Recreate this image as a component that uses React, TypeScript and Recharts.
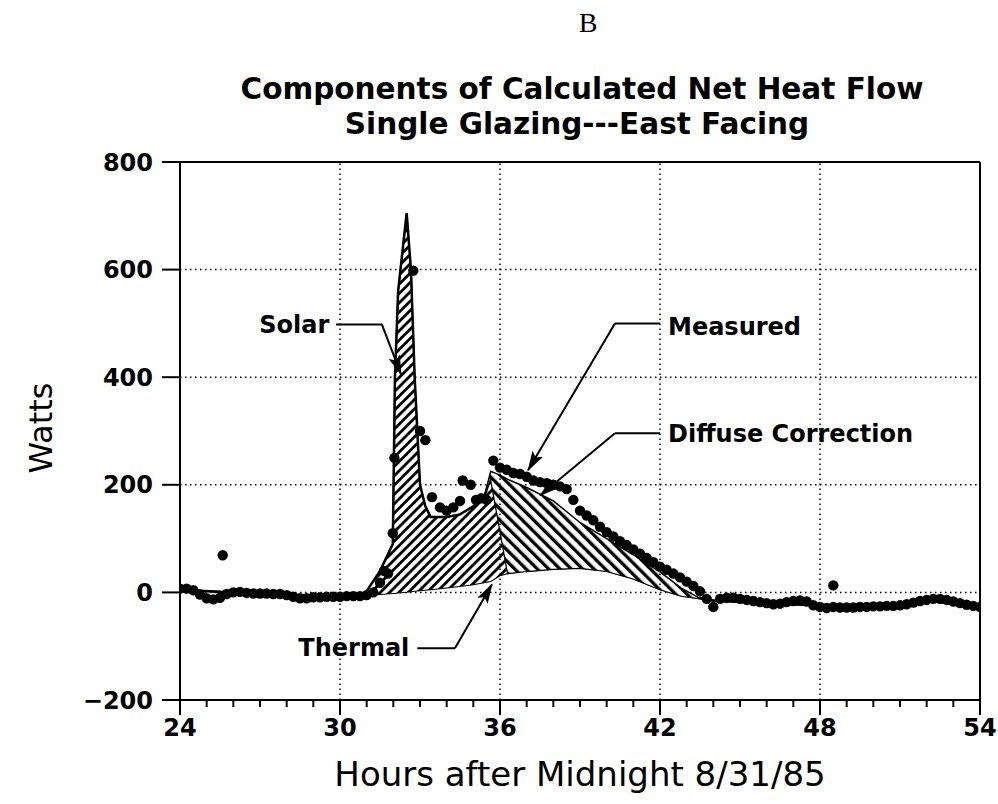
import React from 'react';
import {
  ComposedChart,
  Area,
  Scatter,
  XAxis,
  YAxis,
  CartesianGrid,
  ReferenceLine,
  ReferenceDot,
} from 'recharts';

// ---- Calculated components (stacked: thermal, then solar, then diffuse correction) ----
const componentHours = [24, 26, 28, 30, 30.9, 31.5, 31.98, 32.06, 32.18, 32.5, 32.66, 32.8, 33.0, 33.2, 33.4, 34.0, 34.5, 35.0, 35.4, 35.65, 36.0, 36.3, 37, 38, 39, 40, 41, 42, 42.8, 43.5, 44, 46, 48, 50, 52, 54];
const thermalWatts = [5, 0, -5, -8, -5, -3, -1, -1, 0, 1, 2, 3, 4, 5, 6, 9, 12, 15, 19, 21, 32, 36, 40, 44, 46, 40, 26, 6, -6, -11, -15, -20, -24, -25, -15, -27];
const solarWatts = [0, 0, 0, 0, 0, 43, 91, 401, 560, 704, 598, 397, 196, 155, 134, 131, 133, 145, 156, 194, 87, 0, 0, 0, 0, 0, 0, 0, 0, 0, 0, 0, 0, 0, 0, 0];
const diffuseWatts = [0, 0, 0, 0, 0, 0, 0, 0, 0, 0, 0, 0, 0, 0, 0, 0, 0, 0, 0, 10, 99, 174, 155, 126, 84, 60, 44, 32, 14, 0, 0, 0, 0, 0, 0, 0];

// ---- Measured net heat flow (dots) ----
const measuredHours = [
  24.0, 24.25, 24.5, 24.75, 25.0, 25.25, 25.5, 25.6, 25.75, 26.0, 26.25, 26.5, 26.75, 27.0, 27.25, 27.5, 27.75,
  28.0, 28.25, 28.5, 28.75, 29.0, 29.25, 29.5, 29.75, 30.0, 30.25, 30.5, 30.75, 31.0, 31.25, 31.5, 31.65, 31.8,
  31.98, 32.04, 32.75, 33.0, 33.2, 33.45, 33.75, 34.0, 34.25, 34.5, 34.6, 34.9, 35.1, 35.3, 35.5, 35.75, 36.0,
  36.25, 36.5, 36.75, 37.0, 37.25, 37.5, 37.75, 38.0, 38.25, 38.5, 38.75, 39.0, 39.25, 39.5, 39.75, 40.0, 40.25,
  40.5, 40.75, 41.0, 41.25, 41.5, 41.75, 42.0, 42.25, 42.5, 42.75, 43.0, 43.25, 43.5, 43.75, 44.0, 44.25, 44.5,
  44.75, 45.0, 45.25, 45.5, 45.75, 46.0, 46.25, 46.5, 46.75, 47.0, 47.25, 47.5, 47.75, 48.0, 48.25, 48.5, 48.5,
  48.75, 49.0, 49.25, 49.5, 49.75, 50.0, 50.25, 50.5, 50.75, 51.0, 51.25, 51.5, 51.75, 52.0, 52.25, 52.5, 52.75,
  53.0, 53.25, 53.5, 53.75, 54.0,
];
const measuredWatts = [
  7, 7, 4, -4, -11, -13, -10, 69, -3, 0, 1, -1, -2, -2, -2, -3, -3,
  -5, -8, -11, -11, -9, -9, -8, -8, -8, -7, -7, -7, -5, 0, 18, 40, 35,
  110, 250, 598, 300, 283, 177, 158, 152, 158, 170, 208, 200, 172, 175, 172, 245, 232,
  228, 222, 220, 215, 208, 205, 203, 200, 197, 192, 172, 152, 143, 134, 122, 112, 104,
  95, 88, 80, 72, 64, 56, 48, 42, 35, 28, 20, 12, 2, -12, -27, -12, -10,
  -10, -12, -14, -16, -18, -20, -22, -21, -18, -16, -15, -17, -24, -27, -29, -27, 13,
  -28, -28, -28, -27, -27, -26, -26, -25, -25, -24, -22, -19, -16, -14, -12, -12, -14,
  -17, -20, -23, -25, -27,
];

// ---- Axis ticks ----
const hourTicks = [24, 25, 26, 27, 28, 29, 30, 31, 32, 33, 34, 35, 36, 37, 38, 39, 40, 41, 42, 43, 44, 45, 46, 47, 48, 49, 50, 51, 52, 53, 54];
const labeledHours = [24, 30, 36, 42, 48, 54];
const gridHours = [30, 36, 42, 48];
const wattTicks = [-200, 0, 200, 400, 600, 800];

const componentData = componentHours.map((hour, i) => ({
  hour,
  thermal: thermalWatts[i],
  solar: solarWatts[i],
  diffuse: diffuseWatts[i],
}));
const measuredData = measuredHours.map((hour, i) => ({ hour, measured: measuredWatts[i] }));

// ---- Callouts (data coordinates) ----
const callouts = [
  { label: 'Solar', anchor: 'end', text: { x: 29.6, y: 498 }, bend: { x: 31.57, y: 498 }, start: { x: 29.85, y: 498 }, tip: { x: 32.29, y: 405 } },
  { label: 'Measured', anchor: 'start', text: { x: 42.3, y: 494 }, bend: { x: 40.31, y: 500 }, start: { x: 42.0, y: 500 }, tip: { x: 37.05, y: 227 } },
  { label: 'Diffuse Correction', anchor: 'start', text: { x: 42.3, y: 296 }, bend: { x: 40.31, y: 296 }, start: { x: 42.0, y: 296 }, tip: { x: 37.5, y: 180 } },
  { label: 'Thermal', anchor: 'end', text: { x: 32.6, y: -102 }, bend: { x: 34.31, y: -104 }, start: { x: 32.9, y: -104 }, tip: { x: 35.7, y: 15 } },
];

const FONT = 'DejaVu Sans';

const HourTick = (props: any) => {
  const { x, y, payload } = props;
  const v = payload.value;
  const major = labeledHours.includes(v);
  return (
    <g>
      <line x1={x} y1={y} x2={x} y2={y + (major ? 15 : 7)} stroke="#000" strokeWidth={2} />
      {major && (
        <text x={x} y={y + 36} textAnchor="middle" fontFamily={FONT} fontWeight="bold" fontSize={24} fill="#000">
          {v}
        </text>
      )}
    </g>
  );
};

const arrowShape = (p: any) => (
  <line x1={p.x1} y1={p.y1} x2={p.x2} y2={p.y2} stroke="#000" strokeWidth={2} markerEnd="url(#arrowHead)" />
);
const plainShape = (p: any) => <line x1={p.x1} y1={p.y1} x2={p.x2} y2={p.y2} stroke="#000" strokeWidth={2} />;

const textShape = (label: string, anchor: string) => (p: any) => (
  <text x={p.cx} y={p.cy} dy={8.7} textAnchor={anchor as any} fontFamily={FONT} fontWeight="bold" fontSize={24} fill="#000">
    {label}
  </text>
);

const Dot = (p: any) => <circle cx={p.cx} cy={p.cy} r={5.2} fill="#000" />;

export default function App() {
  return (
    <div style={{ position: 'absolute', left: 0, top: 0, width: 998, height: 804, background: '#fff' }}>
      <ComposedChart
        width={998}
        height={804}
        data={componentData}
        margin={{ top: 162, right: 18, bottom: 64, left: 0 }}
      >
        <defs>
          <pattern id="hatchSolar" patternUnits="userSpaceOnUse" width="6.6" height="6.6" patternTransform="rotate(45)">
            <rect x="0" y="0" width="6.6" height="6.6" fill="#fff" />
            <rect x="0" y="0" width="2.8" height="6.6" fill="#000" />
          </pattern>
          <pattern id="hatchDiffuse" patternUnits="userSpaceOnUse" width="8" height="8" patternTransform="rotate(-45)">
            <rect x="0" y="0" width="8" height="8" fill="#fff" />
            <rect x="0" y="0" width="3.3" height="8" fill="#000" />
          </pattern>
          <marker id="arrowHead" markerUnits="userSpaceOnUse" markerWidth="20" markerHeight="12" refX="19" refY="6" orient="auto">
            <path d="M0,0 L20,6 L0,12 L4,6 z" fill="#000" />
          </marker>
        </defs>
        <CartesianGrid horizontal vertical={false} stroke="#000" strokeWidth={1.5} strokeDasharray="1.5 3.5" />
        <XAxis
          dataKey="hour"
          type="number"
          domain={[24, 54]}
          allowDataOverflow
          ticks={hourTicks}
          interval={0}
          height={40}
          tickSize={0}
          tickMargin={0}
          tickLine={false}
          axisLine={{ stroke: '#000', strokeWidth: 2 }}
          tick={<HourTick />}
        />
        <YAxis
          type="number"
          domain={[-200, 800]}
          allowDataOverflow
          ticks={wattTicks}
          interval={0}
          width={180}
          tickSize={18}
          tickMargin={9}
          axisLine={{ stroke: '#000', strokeWidth: 2 }}
          tickLine={{ stroke: '#000', strokeWidth: 2 }}
          tick={{ fontFamily: FONT, fontWeight: 'bold', fontSize: 24, fill: '#000' }}
          tickFormatter={(v: number) => (v < 0 ? '\u2212' + Math.abs(v) : String(v))}
        />
        {gridHours.map((h) => (
          <ReferenceLine key={'g' + h} x={h} stroke="#000" strokeWidth={1.5} strokeDasharray="1.5 3.5" />
        ))}
        <ReferenceLine y={800} stroke="#000" strokeWidth={2} />
        <ReferenceLine x={54} stroke="#000" strokeWidth={2} />

        <Area type="linear" dataKey="thermal" stackId="c" stroke="#000" strokeWidth={2} fill="none" isAnimationActive={false} dot={false} activeDot={false} />
        <Area type="linear" dataKey="solar" stackId="c" stroke="#000" strokeWidth={2.5} fill="url(#hatchSolar)" fillOpacity={1} isAnimationActive={false} dot={false} activeDot={false} />
        <Area type="linear" dataKey="diffuse" stackId="c" stroke="#000" strokeWidth={1.5} fill="url(#hatchDiffuse)" fillOpacity={1} isAnimationActive={false} dot={false} activeDot={false} />

        <Scatter data={measuredData} dataKey="measured" fill="#000" shape={Dot} isAnimationActive={false} />

        {callouts.map((c) => (
          <ReferenceLine key={'h' + c.label} segment={[c.start, c.bend]} shape={plainShape} />
        ))}
        {callouts.map((c) => (
          <ReferenceLine key={'a' + c.label} segment={[c.bend, c.tip]} shape={arrowShape} />
        ))}
        {callouts.map((c) => (
          <ReferenceDot key={'t' + c.label} x={c.text.x} y={c.text.y} r={0} shape={textShape(c.label, c.anchor)} />
        ))}
      </ComposedChart>

      <svg width={998} height={804} style={{ position: 'absolute', left: 0, top: 0, pointerEvents: 'none' }}>
        <text x={588} y={32} textAnchor="middle" fontFamily="Liberation Serif" fontSize={28} fill="#000">B</text>
        <text x={582} y={99} textAnchor="middle" fontFamily={FONT} fontWeight="bold" fontSize={29.5} fill="#000">
          Components of Calculated Net Heat Flow
        </text>
        <text x={577} y={134} textAnchor="middle" fontFamily={FONT} fontWeight="bold" fontSize={29.5} fill="#000">
          Single Glazing---East Facing
        </text>
        <text x={580} y={786} textAnchor="middle" fontFamily={FONT} fontSize={34} fill="#000">
          Hours after Midnight 8/31/85
        </text>
        <text x={52} y={428} textAnchor="middle" fontFamily={FONT} fontSize={32} fill="#000" transform="rotate(-90 52 428)">
          Watts
        </text>
      </svg>
    </div>
  );
}
